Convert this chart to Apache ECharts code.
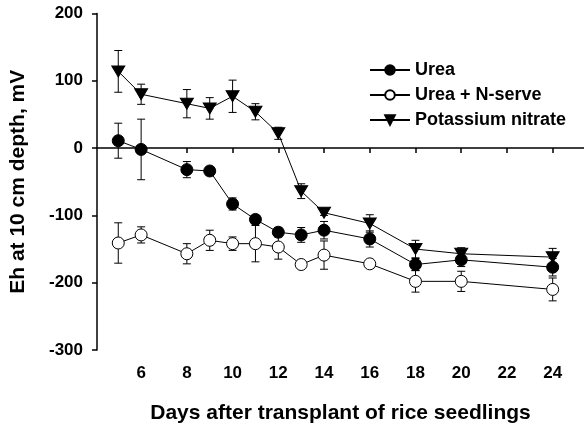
<!DOCTYPE html>
<html>
<head>
<meta charset="utf-8">
<script src="https://cdn.jsdelivr.net/npm/echarts@6/dist/echarts.min.js"></script>
<style>
  html, body { margin: 0; padding: 0; background: #fff; }
  #chart { width: 584px; height: 429px; }
</style>
</head>
<body>
<div id="chart"></div>
<script>
// days after transplant
var days = [5, 6, 8, 9, 10, 11, 12, 13, 14, 16, 18, 20, 24];
var xTicks = [6, 8, 10, 12, 14, 16, 18, 20, 22, 24];

// Eh values (mV) and half error bars
var urea      = [11, -2, -32, -34, -83, -106, -125, -129, -122, -135, -173, -166, -177];
var ureaErr   = [26, 45, 12, 3, 9, 6, 7, 11, 13, 12, 9, 10, 13];
var nserve    = [-141, -129, -157, -137, -142, -142, -147, -173, -159, -172, -198, -198, -210];
var nserveErr = [30, 12, 15, 15, 10, 27, 18, 2, 21, 2, 16, 15, 17];
var kno3      = [114, 80, 66, 59, 77, 54, 22, -64, -96, -112, -150, -157, -162];
var kno3Err   = [31, 15, 21, 16, 24, 12, 9, 11, 4, 13, 13, 9, 13];

var FONT = '"Liberation Sans", Arial, sans-serif';

function pairs(ys) {
  return days.map(function (d, i) { return [d, ys[i]]; });
}
function bars(ys, errs) {
  return days.map(function (d, i) { return [d, ys[i] - errs[i], ys[i] + errs[i]]; });
}

function renderErr(params, api) {
  var lo = api.coord([api.value(0), api.value(1)]);
  var hi = api.coord([api.value(0), api.value(2)]);
  var w = 4;
  var st = { stroke: '#000', lineWidth: 1 };
  return {
    type: 'group',
    children: [
      { type: 'line', shape: { x1: lo[0], y1: lo[1], x2: hi[0], y2: hi[1] }, style: st },
      { type: 'line', shape: { x1: lo[0] - w, y1: lo[1], x2: lo[0] + w, y2: lo[1] }, style: st },
      { type: 'line', shape: { x1: hi[0] - w, y1: hi[1], x2: hi[0] + w, y2: hi[1] }, style: st }
    ]
  };
}

function errSeries(ys, errs) {
  return {
    type: 'custom',
    renderItem: renderErr,
    data: bars(ys, errs),
    encode: { x: 0, y: [1, 2] },
    z: 1,
    silent: true
  };
}

function lineSeries(name, ys, symbol, fill, size, rotate) {
  return {
    name: name,
    type: 'line',
    data: pairs(ys),
    symbol: symbol,
    symbolSize: size,
    symbolRotate: rotate || 0,
    showAllSymbol: true,
    lineStyle: { color: '#000', width: 1 },
    itemStyle: { color: fill, borderColor: '#000', borderWidth: 1, opacity: 1 },
    z: 3,
    animation: false
  };
}

var chart = echarts.init(document.getElementById('chart'));

chart.setOption({
  animation: false,
  backgroundColor: '#fff',
  grid: { left: 96, right: 0, top: 13.5, bottom: 78.3 },
  legend: {
    orient: 'vertical',
    left: 364,
    top: 56,
    itemWidth: 40,
    itemHeight: 12,
    itemGap: 7,
    textStyle: { fontFamily: FONT, fontWeight: 'bold', fontSize: 18, color: '#000' },
    data: ['Urea', 'Urea + N-serve', 'Potassium nitrate']
  },
  xAxis: {
    type: 'value',
    min: 4.07,
    max: 25.37,
    name: 'Days after transplant of rice seedlings',
    nameLocation: 'middle',
    nameGap: 53,
    nameTextStyle: { fontFamily: FONT, fontWeight: 'bold', fontSize: 21, color: '#000' },
    splitLine: { show: false },
    axisLine: { lineStyle: { color: '#000', width: 1.5 } },
    axisTick: { inside: false, length: 5, customValues: xTicks, lineStyle: { color: '#000', width: 1.5 } },
    axisLabel: { customValues: xTicks, margin: 15, fontFamily: FONT, fontWeight: 'bold', fontSize: 17, color: '#000' }
  },
  yAxis: {
    type: 'value',
    min: -300,
    max: 200,
    interval: 100,
    name: 'Eh at 10 cm depth, mV',
    nameLocation: 'middle',
    nameGap: 68,
    nameTextStyle: { fontFamily: FONT, fontWeight: 'bold', fontSize: 21, color: '#000' },
    splitLine: { show: false },
    axisLine: { show: true, lineStyle: { color: '#000', width: 1.5 } },
    axisTick: { show: true, length: 5, lineStyle: { color: '#000', width: 1.5 } },
    axisLabel: { margin: 14, fontFamily: FONT, fontWeight: 'bold', fontSize: 17, color: '#000' }
  },
  series: [
    errSeries(urea, ureaErr),
    errSeries(nserve, nserveErr),
    errSeries(kno3, kno3Err),
    lineSeries('Urea', urea, 'circle', '#000', 12),
    lineSeries('Urea + N-serve', nserve, 'circle', '#fff', 12),
    lineSeries('Potassium nitrate', kno3, 'triangle', '#000', [13, 11], 180)
  ]
});
</script>
</body>
</html>
